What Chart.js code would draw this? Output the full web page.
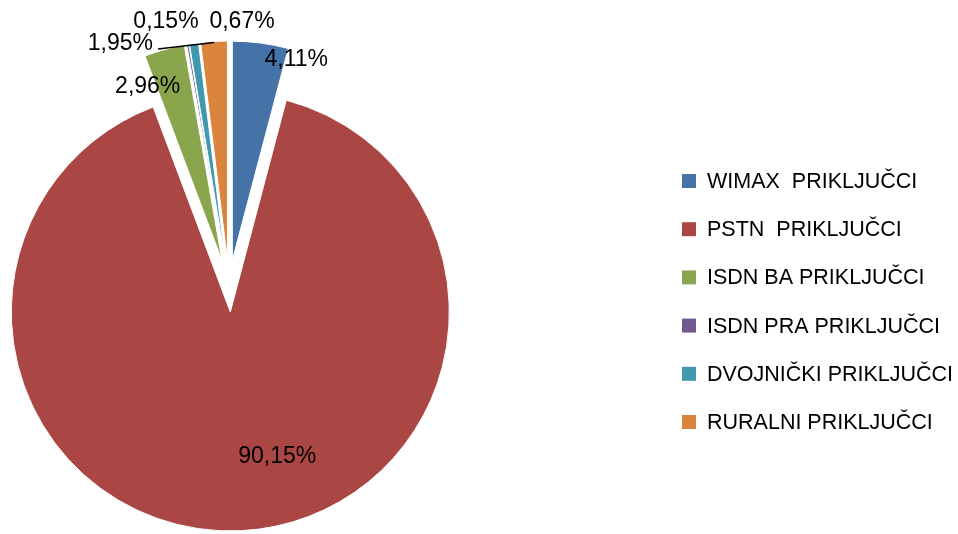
<!DOCTYPE html>
<html>
<head>
<meta charset="utf-8">
<script src="https://cdn.jsdelivr.net/npm/chart.js@4.4.0/dist/chart.umd.min.js"></script>
<style>
  html, body { margin: 0; padding: 0; background: #fff; }
</style>
</head>
<body>
<canvas id="pieChart" width="958" height="534"></canvas>
<script>
const CATS   = ['WIMAX  PRIKLJUČCI', 'PSTN  PRIKLJUČCI', 'ISDN BA PRIKLJUČCI', 'ISDN PRA PRIKLJUČCI', 'DVOJNIČKI PRIKLJUČCI', 'RURALNI PRIKLJUČCI'];
const SHARE  = [4.11, 90.15, 2.96, 0.15, 0.67, 1.95];
const COLORS = ['#4572A7', '#AA4643', '#89A54E', '#71588F', '#4198AF', '#DB843D'];

// label spots: [deg clockwise from top, distance / radius]
const LABEL_SPOT = [[16.4, 1.087], [164, 0.799], [-22, 0.991], [-13.3, 1.251], [2.8, 1.219], [-24, 1.219]];
const EXPLODE = 26;
const LABEL_FONT = '23px "Liberation Sans", Arial, sans-serif';
const LEGEND_FONT = '21.5px "Liberation Sans", Arial, sans-serif';

const fmt = v => v.toFixed(2).replace('.', ',') + '%';

// pull every slice out along its bisector (chart.js offset also narrows thin slices, so move them by hand)
const explode = {
  id: 'explode',
  afterDatasetsUpdate(chart) {
    chart.getDatasetMeta(0).data.forEach(arc => {
      const mid = (arc.startAngle + arc.endAngle) / 2;
      arc.x += Math.cos(mid) * EXPLODE;
      arc.y += Math.sin(mid) * EXPLODE;
    });
  }
};

// percent labels + the one leader line
const pieLabels = {
  id: 'pieLabels',
  afterDatasetsDraw(chart) {
    const ctx = chart.ctx;
    const ca = chart.chartArea;
    const cx = (ca.left + ca.right) / 2, cy = (ca.top + ca.bottom) / 2;
    const arcs = chart.getDatasetMeta(0).data;
    ctx.save();
    ctx.font = LABEL_FONT;
    ctx.fillStyle = '#000';
    ctx.textAlign = 'center';
    ctx.textBaseline = 'middle';
    arcs.forEach((arc, i) => {
      const [deg, k] = LABEL_SPOT[i];
      const a = deg * Math.PI / 180;
      const lx = cx + Math.sin(a) * arc.outerRadius * k;
      const ly = cy - Math.cos(a) * arc.outerRadius * k + 2;
      const txt = fmt(SHARE[i]);
      ctx.fillText(txt, lx, ly);

      if (i === 5) {
        const mid = (arc.startAngle + arc.endAngle) / 2;
        const w = ctx.measureText(txt).width;
        ctx.beginPath();
        ctx.strokeStyle = '#000';
        ctx.lineWidth = 1.5;
        ctx.moveTo(lx + w / 2 + 5, ly + 5);
        ctx.lineTo(arc.x + Math.cos(mid) * (arc.outerRadius - 1), arc.y + Math.sin(mid) * (arc.outerRadius - 1));
        ctx.stroke();
      }
    });
    ctx.restore();
  }
};

// legend drawn on the right, like the original
const sideLegend = {
  id: 'sideLegend',
  afterDraw(chart) {
    const ctx = chart.ctx;
    ctx.save();
    ctx.font = LEGEND_FONT;
    ctx.textBaseline = 'middle';
    ctx.textAlign = 'left';
    CATS.forEach((c, i) => {
      const y = 181 + i * 48.2;
      ctx.fillStyle = COLORS[i];
      ctx.fillRect(682, y - 7, 14, 14);
      ctx.fillStyle = '#000';
      ctx.fillText(c, 707, y + 1);
    });
    ctx.restore();
  }
};

new Chart('pieChart', {
  type: 'pie',
  data: {
    labels: CATS,
    datasets: [{
      data: SHARE,
      backgroundColor: COLORS,
      borderColor: '#fff',
      borderWidth: 1,
      hoverOffset: 0
    }]
  },
  options: {
    responsive: false,
    animation: false,
    radius: 219,
    layout: { padding: { left: 0, right: 500, top: 38, bottom: 0 } },
    events: [],
    plugins: { legend: { display: false }, tooltip: { enabled: false } }
  },
  plugins: [explode, pieLabels, sideLegend]
});
</script>
</body>
</html>
